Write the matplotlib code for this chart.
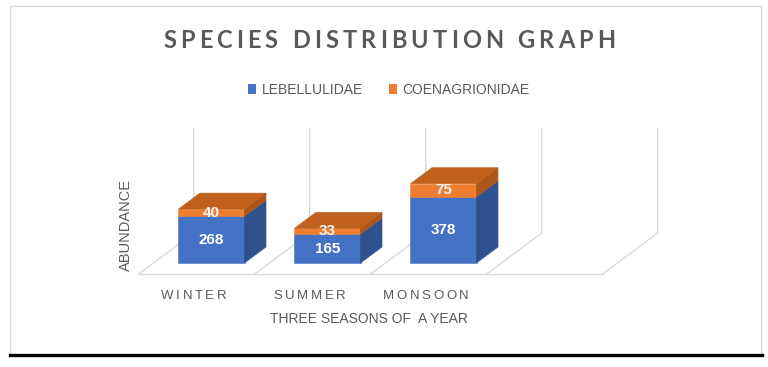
import matplotlib
matplotlib.use("Agg")
import matplotlib.pyplot as plt
from matplotlib.patches import Polygon, Rectangle, Patch
from matplotlib.lines import Line2D
from matplotlib.font_manager import FontProperties
import numpy as np

# data
seasons = ["WINTER", "SUMMER", "MONSOON"]
lebellulidae = [268, 165, 378]
coenagrionidae = [40, 33, 75]
series_names = ["LEBELLULIDAE", "COENAGRIONIDAE"]
y_max = 600      # height of the back wall (value axis max)
n_slots = 4      # floor has one empty slot on the right

BLUE, BLUE_SIDE = "#4472c4", "#2f528f"
ORANGE, ORANGE_SIDE, ORANGE_TOP = "#ed7d31", "#ad5619", "#c0601d"
GRID = "#d9d9d9"
INK = "#595959"
SANS = ["Liberation Sans", "DejaVu Sans"]

W, H = 768, 367
fig = plt.figure(figsize=(W / 100, H / 100), dpi=100)
ax = fig.add_axes([0, 0, 1, 1])
# pixel layout of the fake-3D plot area
PX_CAT, PX_UNIT = 116.0, 0.175   # px per category, px per abundance unit
X0, Y0 = 211.5, 263.0            # px (from left / top) of first bar's front base centre
ax.set_xlim(-X0 / PX_CAT, (W - X0) / PX_CAT)
ax.set_ylim(-(H - Y0) / PX_UNIT, Y0 / PX_UNIT)
ax.axis("off")

DX, DY = 55 / PX_CAT, 41 / PX_UNIT   # full floor depth in data units
ZF, ZB = 0.27, 0.66                  # bar front / back depth
BW = 0.57


def proj(x, y, z):
    return (x + (z - ZF) * DX, y + (z - ZF) * DY)


# floor + back wall lines
left, right = -0.5, n_slots - 0.5
xs, ys = zip(proj(left, 0, 0), proj(right, 0, 0))
ax.plot(xs, ys, color=GRID, lw=1, zorder=1)
for b in np.arange(left, right + 0.01, 1.0):
    xs, ys = zip(proj(b, 0, 0), proj(b, 0, 1), proj(b, y_max, 1))
    ax.plot(xs, ys, color=GRID, lw=1, zorder=1)

# stacked 3D columns
x = np.arange(len(seasons))
tops = [a + b for a, b in zip(lebellulidae, coenagrionidae)]
ax.bar(x, lebellulidae, width=BW, color=BLUE, edgecolor=BLUE, lw=0.4, zorder=3)
ax.bar(x, coenagrionidae, bottom=lebellulidae, width=BW, color=ORANGE,
       edgecolor=ORANGE, lw=0.4, zorder=3)
for xi, lo, hi in zip(x, lebellulidae, tops):
    r = xi + BW / 2
    for y0, y1, c in ((0, lo, BLUE_SIDE), (lo, hi, ORANGE_SIDE)):
        side = [proj(r, y0, ZF), proj(r, y0, ZB), proj(r, y1, ZB), proj(r, y1, ZF)]
        ax.add_patch(Polygon(side, closed=True, fc=c, ec=c, lw=0.4, zorder=3))
    top = [proj(xi - BW / 2, hi, ZF), proj(r, hi, ZF), proj(r, hi, ZB), proj(xi - BW / 2, hi, ZB)]
    ax.add_patch(Polygon(top, closed=True, fc=ORANGE_TOP, ec=ORANGE_TOP, lw=0.4, zorder=3))

for xi, a, b in zip(x, lebellulidae, coenagrionidae):
    ax.text(xi, a / 2, str(a), ha="center", va="center", color="white",
            fontsize=11, fontweight="bold", family=SANS, zorder=5)
    ax.text(xi, a + b / 2, str(b), ha="center", va="center", color="#f4f4f4",
            fontsize=11, fontweight="bold", family=SANS, zorder=5)


def spaced(xc, yb, s, gap=0.0, width=None, **kw):
    """draw s centred at display px xc, baseline yb, with extra letter spacing"""
    rnd = fig.canvas.get_renderer()

    def w_of(t):
        tt = fig.text(0, 0, t, **kw)
        w = tt.get_window_extent(rnd).width
        tt.remove()
        return w
    sp = w_of("I I") - w_of("II")
    ws = [sp if ch == " " else w_of(ch) for ch in s]
    if width is not None:
        gap = (width - sum(ws)) / (len(s) - 1)
    total = sum(ws) + gap * (len(s) - 1)
    cur = xc - total / 2
    for ch, w in zip(s, ws):
        if ch != " ":
            fig.text(cur / W, yb / H, ch, ha="left", va="baseline", **kw)
        cur += w + gap


# title
spaced(389, H - 48.5, "SPECIES DISTRIBUTION GRAPH", width=452,
       family=["Lato", "DejaVu Sans"], fontweight="bold", fontsize=17, color=INK)

# category labels under the floor
for i, name in enumerate(seasons):
    px = ax.transData.transform(proj(i - 0.5, 0, 1))[0]
    spaced(px, H - 299, name, gap=2.6, family=SANS, fontsize=9.5, color=INK)

fig.text(369 / W, 1 - 319 / H, "THREE SEASONS OF  A YEAR", ha="center", va="center",
         family=SANS, fontsize=10, color=INK)
fig.text(126 / W, 1 - 225 / H, "ABUNDANCE", ha="center", va="center", rotation=90,
         family=SANS, fontsize=10.5, color=INK)

handles = [Patch(fc=BLUE, ec="none"), Patch(fc=ORANGE, ec="none")]
fig.legend(handles, series_names, loc="center", bbox_to_anchor=(389 / W, 1 - 90 / H),
           ncol=2, frameon=False, handlelength=0.55, handleheight=0.8, handletextpad=0.43,
           columnspacing=1.85, prop=FontProperties(family=SANS, size=10), labelcolor=INK)

# chart frame and the heavy rule under it
fig.patches.append(Rectangle((10 / W, 1 - 355 / H), 751 / W, 349 / H, transform=fig.transFigure,
                             fill=False, ec=GRID, lw=1))
fig.lines.append(Line2D([10 / W, 762 / W], [1 - 355 / H] * 2, transform=fig.transFigure,
                        color="black", lw=2.4))

fig.savefig("out.png", dpi=100)
